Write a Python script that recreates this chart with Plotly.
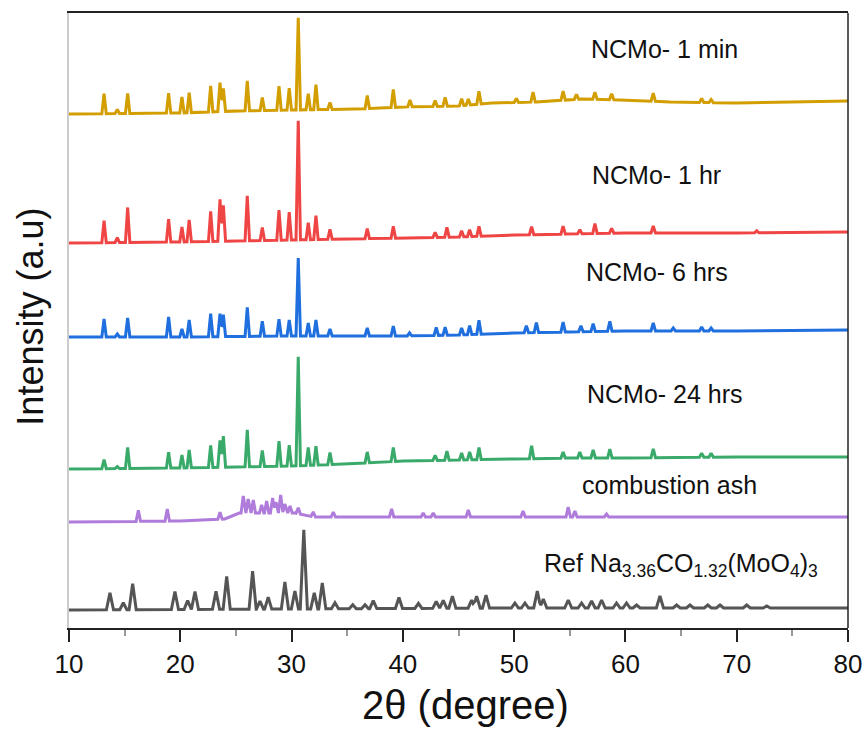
import numpy as np
import plotly.graph_objects as go

# ---------------- data (2theta in degrees, intensity in arbitrary units) ----------------
# NCMo- 1 min
min1_pos = [13.15, 14.34, 15.27, 18.95, 20.15, 20.8, 22.73, 23.57, 23.87, 26.02, 27.37, 28.87, 29.79,
            30.6, 31.5, 32.19, 33.45, 36.8, 39.14, 40.64, 42.9, 43.8, 45.28, 45.88, 46.84, 50.2, 51.7,
            54.4, 55.6, 57.26, 58.76, 62.5, 66.85, 67.7]
min1_h = [20, 4, 20, 20, 16, 20, 26, 29, 23, 30, 13, 24, 22,
          92, 16, 25, 7, 13, 18, 7, 6, 9, 7, 6, 13, 4, 10,
          9, 5, 7, 6, 8, 4, 3]
min1_bx = [10, 20, 25, 30, 36, 40, 45, 48, 52, 56, 60, 64, 70, 80]
min1_by = [514, 515, 517, 518, 519, 521, 522, 525, 526, 529, 528, 526, 525, 527]

# NCMo- 1 hr
hr1_pos = [13.15, 14.34, 15.27, 18.95, 20.15, 20.8, 22.73, 23.57, 23.87, 26.02, 27.37, 28.87, 29.79,
           30.6, 31.5, 32.19, 33.45, 36.8, 39.14, 42.9, 43.96, 45.28, 46.0, 46.84, 51.57, 54.4,
           55.9, 57.26, 58.76, 62.5, 71.8]
hr1_h = [22, 5, 35, 23, 15, 22, 30, 42, 36, 45, 13, 30, 28,
         119, 17, 24, 10, 10, 12, 5, 10, 6, 7, 10, 8, 8,
         4, 10, 5, 7, 2]
hr1_bx = [10, 20, 30, 40, 45, 50, 55, 60, 70, 80]
hr1_by = [385, 386, 388, 390, 391, 393, 394, 395, 395, 396]

# NCMo- 6 hrs
hr6_pos = [13.15, 14.34, 15.27, 18.95, 20.15, 20.8, 22.73, 23.57, 23.87, 26.02, 27.37, 28.87, 29.79,
           30.6, 31.5, 32.19, 33.45, 36.8, 39.14, 40.6, 43.0, 43.8, 45.28, 46.0, 46.84, 51.1, 52.0,
           54.4, 56.0, 57.1, 58.6, 62.5, 64.3, 66.85, 67.7]
hr6_h = [18, 3, 19, 20, 8, 17, 23, 23, 22, 29, 15, 17, 16,
         78, 13, 16, 7, 8, 10, 3, 8, 8, 7, 9, 14, 7, 10,
         10, 6, 8, 10, 8, 3, 4, 3]
hr6_bx = [10, 20, 30, 40, 45, 50, 55, 60, 70, 80]
hr6_by = [291, 291, 292, 292, 293, 295, 296, 297, 297, 298]

# NCMo- 24 hrs
hr24_pos = [13.15, 14.34, 15.27, 18.95, 20.15, 20.8, 22.73, 23.57, 23.87, 26.02, 27.37, 28.87, 29.79,
            30.6, 31.5, 32.19, 33.45, 36.8, 39.14, 42.9, 43.96, 45.28, 46.0, 46.84, 51.57, 54.4,
            55.9, 57.1, 58.6, 62.5, 66.85, 67.7]
hr24_h = [9, 2, 21, 16, 13, 18, 22, 27, 31, 37, 16, 25, 21,
          109, 18, 19, 12, 11, 14, 5, 9, 7, 8, 12, 13, 6,
          6, 8, 9, 9, 4, 4]
hr24_bx = [10, 20, 25, 30, 35, 40, 45, 50, 55, 60, 70, 80]
hr24_by = [159, 160, 161, 162, 164, 167, 168, 169, 170, 170, 171, 171]

# combustion ash
ash_pos = [16.23, 18.83, 23.57, 25.66, 26.1, 26.56, 27.31, 27.76, 28.3, 28.6, 29.02, 29.4, 29.86,
           30.6, 31.95, 33.75, 38.99, 41.83, 42.73, 45.88, 50.8, 54.86, 55.46, 58.3]
ash_h = [11, 12, 7, 17, 14, 13, 8, 12, 15, 11, 18, 9, 7,
         6, 5, 5, 8, 4, 4, 7, 6, 10, 6, 3]
ash_bx = [10, 20, 24, 25.3, 30.3, 32, 40, 50, 60, 70, 80]
ash_by = [106, 107, 109, 115, 115, 111, 111, 111, 111, 111, 111]

# Ref Na3.36CO1.32(MoO4)3
ref_pos = [13.68, 14.88, 15.72, 19.52, 20.66, 21.32, 23.21, 24.17, 26.5, 27.16, 27.9, 29.4, 30.3,
           31.1, 32.04, 32.76, 33.9, 35.5, 36.6, 37.34, 39.65, 41.4, 43.0, 43.63, 44.45, 46.18,
           46.63, 47.47, 50.07, 50.97, 52.08, 52.62, 54.86, 56.06, 56.96, 57.86, 59.2, 60.1,
           61.0, 63.1, 64.6, 65.8, 67.4, 68.5, 70.9, 72.7]
ref_h = [17, 7, 26, 18, 9, 18, 18, 33, 38, 8, 12, 27, 18,
         79, 16, 26, 6, 4, 4, 8, 11, 5, 7, 8, 12, 8,
         12, 13, 5, 5, 17, 9, 8, 5, 7, 8, 5, 5,
         3, 12, 3, 3, 3, 3, 3, 2]
ref_bx = [10, 30, 50, 80]
ref_by = [18, 19, 20, 20]

labels = ["NCMo- 1 min", "NCMo- 1 hr", "NCMo- 6 hrs", "NCMo- 24 hrs", "combustion ash",
          "Ref Na<sub>3.36</sub>CO<sub>1.32</sub>(MoO<sub>4</sub>)<sub>3</sub>"]


def pattern(pos, h, w, bx, by):
    """Baseline through read anchor points plus one triangular profile per read peak."""
    pos = np.asarray(pos, float)
    h = np.asarray(h, float)
    xs = set(bx)
    for p in pos:
        xs.update([p - w, p, p + w])
    x = np.array(sorted(v for v in xs if 10 <= v <= 80))
    y = np.interp(x, bx, by)
    for p, hh in zip(pos, h):
        y = y + hh * np.clip(1 - np.abs(x - p) / w, 0, None)
    return x, y


series = [
    (min1_pos, min1_h, 0.2, min1_bx, min1_by, "#D39E00"),
    (hr1_pos, hr1_h, 0.2, hr1_bx, hr1_by, "#EF4545"),
    (hr6_pos, hr6_h, 0.2, hr6_bx, hr6_by, "#1F6FDF"),
    (hr24_pos, hr24_h, 0.2, hr24_bx, hr24_by, "#3AAA6A"),
    (ash_pos, ash_h, 0.2, ash_bx, ash_by, "#B07CDC"),
    (ref_pos, ref_h, 0.32, ref_bx, ref_by, "#555555"),
]

fig = go.Figure()
for (p, hh, w, bx, by, col), name in zip(series, labels):
    x, y = pattern(p, hh, w, bx, by)
    fig.add_trace(go.Scatter(x=x, y=y, mode="lines", name=name,
                             line=dict(color=col, width=3), showlegend=False))

FONT = "Liberation Sans, Arial, sans-serif"

# label positions in data coordinates
lab_x = [63.55, 62.83, 62.83, 63.55, 64.0, 52.5]
lab_y = [579, 453, 356, 234, 143, 63]
for i, (t, lx, ly) in enumerate(zip(labels, lab_x, lab_y)):
    fig.add_annotation(x=lx, y=ly, text=t, showarrow=False,
                       xanchor="left" if i == 5 else "center", yanchor="middle",
                       font=dict(family=FONT, size=25, color="#111"))

fig.add_annotation(x=45.6, y=-0.125, xref="x", yref="paper", text="2θ (degree)",
                   showarrow=False, xanchor="center", yanchor="middle",
                   font=dict(family=FONT, size=40, color="#111"))
fig.add_annotation(x=-0.049, y=0.506, xref="paper", yref="paper", text="Intensity (a.u)",
                   showarrow=False, textangle=-90, xanchor="center", yanchor="middle",
                   font=dict(family=FONT, size=36, color="#111"))

fig.add_shape(type="line", xref="paper", yref="paper", x0=1, x1=1, y0=0, y1=1,
              line=dict(color="#222", width=1.5))

fig.update_xaxes(range=[10, 80], dtick=10, tick0=10, ticks="outside", ticklen=12, tickwidth=1.5,
                 tickcolor="#222", showline=True, linecolor="#222", linewidth=1.5, mirror=True,
                 showgrid=False, zeroline=False, automargin=False,
                 tickfont=dict(family=FONT, size=26, color="#111"),
                 minor=dict(dtick=5, tick0=10, ticks="outside", ticklen=6, tickwidth=1.5,
                            tickcolor="#999", showgrid=False))
fig.update_yaxes(range=[0, 615], showticklabels=False, ticks="", showgrid=False, zeroline=False,
                 showline=True, linecolor="#cccccc", linewidth=2, automargin=False)

fig.update_layout(width=866, height=732, margin=dict(l=69, r=18, t=13, b=104),
                  plot_bgcolor="white", paper_bgcolor="white",
                  font=dict(family=FONT))

fig.write_html("out.html")
